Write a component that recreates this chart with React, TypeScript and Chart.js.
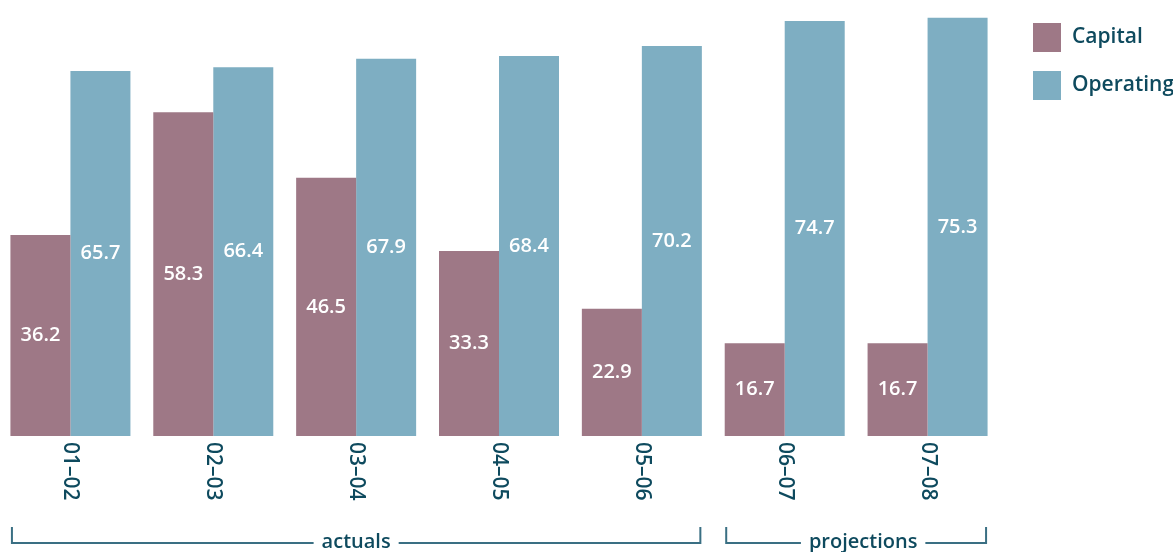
import React, { useEffect, useRef } from "react";
import { Chart, registerables } from "chart.js";

Chart.register(...registerables);

const categories = ["01–02", "02–03", "03–04", "04–05", "05–06", "06–07", "07–08"];
const capitalValues = [36.2, 58.3, 46.5, 33.3, 22.9, 16.7, 16.7];
const operatingValues = [65.7, 66.4, 67.9, 68.4, 70.2, 74.7, 75.3];
const seriesNames = ["Capital", "Operating"];
const groups = [
  { label: "actuals", from: 0, to: 4, offset: 0 },
  { label: "projections", from: 5, to: 6, offset: 7 },
];

const CAPITAL = "#9e7886";
const OPERATING = "#7eaec2";
const TEXT = "#0e4a5e";
const LINE = "#3a6f83";
const FONT = "'Open Sans', 'Noto Sans', sans-serif";

const overlayPlugin = {
  id: "overlay",
  afterDatasetsDraw(chart: any) {
    const ctx = chart.ctx as CanvasRenderingContext2D;
    ctx.save();
    ctx.fillStyle = "#ffffff";
    ctx.font = `600 20px ${FONT}`;
    ctx.textAlign = "center";
    ctx.textBaseline = "middle";
    chart.data.datasets.forEach((ds: any, di: number) => {
      const meta = chart.getDatasetMeta(di);
      meta.data.forEach((bar: any, i: number) => {
        const v = ds.data[i];
        const y = (bar.y + bar.base) / 2;
        ctx.fillText(v.toFixed(1), bar.x, y);
      });
    });
    ctx.restore();
  },
  afterDraw(chart: any) {
    const ctx = chart.ctx as CanvasRenderingContext2D;
    const x = chart.scales.x;
    const bottom = chart.chartArea.bottom;
    const m0 = chart.getDatasetMeta(0);
    const m1 = chart.getDatasetMeta(1);
    ctx.save();
    ctx.fillStyle = TEXT;
    ctx.font = `600 21px ${FONT}`;
    ctx.textAlign = "left";
    ctx.textBaseline = "middle";
    categories.forEach((c, i) => {
      const px = x.getPixelForValue(i);
      ctx.save();
      ctx.translate(px, bottom + 6);
      ctx.rotate(Math.PI / 2);
      ctx.fillText(c, 0, 0);
      ctx.restore();
    });
    ctx.restore();

    ctx.save();
    ctx.strokeStyle = LINE;
    ctx.fillStyle = TEXT;
    ctx.font = `600 20px ${FONT}`;
    ctx.textAlign = "center";
    ctx.textBaseline = "middle";
    const lineY = bottom + 107;
    const topY = bottom + 91;
    groups.forEach((g) => {
      const b0: any = m0.data[g.from];
      const b1: any = m1.data[g.to];
      const left = b0.x - b0.width / 2 + 1.5;
      const right = b1.x + b1.width / 2 - 1.5;
      const cx = (left + right) / 2 + g.offset;
      const tw = ctx.measureText(g.label).width;
      ctx.beginPath();
      ctx.moveTo(left, topY);
      ctx.lineTo(left, lineY);
      ctx.lineTo(cx - tw / 2 - 8, lineY);
      ctx.moveTo(cx + tw / 2 + 8, lineY);
      ctx.lineTo(right, lineY);
      ctx.lineTo(right, topY);
      ctx.lineWidth = 2;
      ctx.stroke();
      ctx.fillText(g.label, cx, lineY - 1);
    });
    ctx.restore();

    ctx.save();
    const colors = [CAPITAL, OPERATING];
    ctx.font = `600 21px ${FONT}`;
    ctx.textAlign = "left";
    ctx.textBaseline = "middle";
    seriesNames.forEach((n, i) => {
      const y = 23 + i * 48;
      ctx.fillStyle = colors[i];
      ctx.fillRect(1034, y, 28, 29);
      ctx.fillStyle = TEXT;
      ctx.fillText(n, 1073, y + 14);
    });
    ctx.restore();
  },
};

export default function App() {
  const ref = useRef<HTMLCanvasElement>(null);
  useEffect(() => {
    if (!ref.current) return;
    const chart = new Chart(ref.current, {
      type: "bar",
      data: {
        labels: categories,
        datasets: [
          { label: seriesNames[0], data: capitalValues, backgroundColor: CAPITAL, borderWidth: 0 },
          { label: seriesNames[1], data: operatingValues, backgroundColor: OPERATING, borderWidth: 0 },
        ],
      },
      options: {
        animation: false,
        responsive: false,
        devicePixelRatio: 1,
        layout: { padding: { left: 0, right: 174, top: 0, bottom: 116 } },
        datasets: { bar: { categoryPercentage: 0.84, barPercentage: 1 } },
        scales: {
          x: { display: false },
          y: { display: false, min: 0, max: 78.5 },
        },
        plugins: {
          legend: { display: false },
          tooltip: { enabled: false },
        },
      },
      plugins: [overlayPlugin],
    });
    return () => chart.destroy();
  }, []);
  return (
    <div style={{ position: "fixed", left: -1, top: 0, width: 1174, height: 552, background: "#fff" }}>
      <canvas ref={ref} width={1174} height={552} style={{ display: "block", width: 1174, height: 552 }} />
    </div>
  );
}
